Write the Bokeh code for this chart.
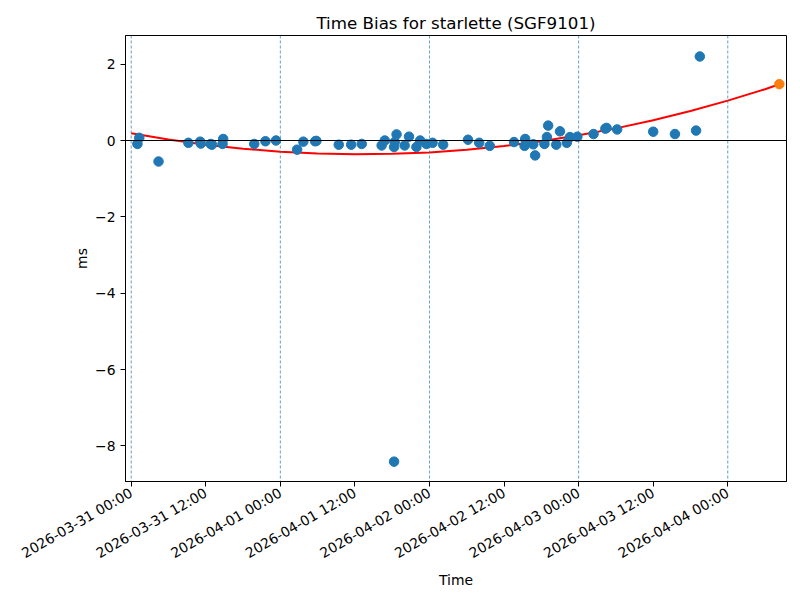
import math
import pandas as pd
from bokeh.plotting import figure
from bokeh.models import Span, FixedTicker, DatetimeTickFormatter, Range1d
from bokeh.embed import file_html
from bokeh.resources import INLINE

# ---- data ----
t0 = pd.Timestamp("2026-03-31 00:00")
obs_hours = [1.0, 1.3, 4.4, 9.2, 11.1, 11.2, 12.8, 13.0, 14.8, 14.7, 19.8, 21.6, 23.3,
             26.7, 27.7, 29.6, 29.8, 33.4, 35.4, 37.1, 40.3, 40.8, 42.3, 42.7, 42.4,
             42.3, 44.0, 44.7, 45.9, 46.5, 47.5, 48.5, 50.2, 54.2, 56.0, 57.7, 61.6,
             63.4, 63.3, 64.7, 65.0, 66.5, 66.9, 67.1, 68.4, 69.0, 70.1, 70.6, 71.8,
             74.4, 76.3, 76.5, 78.2, 84.0, 87.5, 90.9, 91.5]
obs_bias = [-0.09, 0.07, -0.55, -0.06, -0.03, -0.08, -0.09, -0.11, 0.04, -0.09, -0.09, -0.02, 0.0,
            -0.24, -0.03, -0.02, -0.01, -0.11, -0.11, -0.09, -0.13, 0.0, -0.17, 0.16, -0.04,
            -8.41, -0.13, 0.10, -0.17, 0.0, -0.09, -0.06, -0.11, 0.02, -0.06, -0.14, -0.04,
            0.04, -0.14, -0.10, -0.39, -0.09, 0.09, 0.39, -0.11, 0.24, -0.06, 0.09, 0.10,
            0.17, 0.31, 0.33, 0.29, 0.23, 0.17, 0.26, 2.20]
fit_hours = [0, 6, 12, 18, 24, 30, 36, 42, 48, 54, 60, 66, 72, 78, 84, 90, 96, 102, 104.3]
fit_bias = [0.19, 0.026, -0.109, -0.215, -0.292, -0.34, -0.36, -0.35, -0.311, -0.243,
            -0.146, -0.02, 0.135, 0.318, 0.531, 0.773, 1.044, 1.344, 1.475]
pred_hours = [104.3]
pred_bias = [1.475]
day_marks = ["2026-03-31", "2026-04-01", "2026-04-02", "2026-04-03", "2026-04-04"]
x_tick_hours = [0, 12, 24, 36, 48, 60, 72, 84, 96]
y_ticks = [2, 0, -2, -4, -6, -8]
y_tick_labels = ["2", "0", "\u22122", "\u22124", "\u22126", "\u22128"]

def to_dt(hours):
    return [t0 + pd.Timedelta(hours=h) for h in hours]

obs_t = to_dt(obs_hours)
fit_t = to_dt(fit_hours)
pred_t = to_dt(pred_hours)

FONT = "DejaVu Sans"

p = figure(width=792, height=592, output_backend="svg", toolbar_location=None,
           x_axis_type="datetime",
           x_range=Range1d(pd.Timestamp("2026-03-30 23:05"), pd.Timestamp("2026-04-04 09:27")),
           y_range=Range1d(-8.93, 2.75),
           min_border_left=125, min_border_right=6, min_border_top=35, min_border_bottom=111)

p.title.text = "Time Bias for starlette (SGF9101)"
p.title.align = "center"
p.title.text_font = FONT
p.title.text_font_size = "16.7px"
p.title.text_font_style = "normal"
p.title.text_color = "black"
p.title.standoff = 6

p.xgrid.visible = False
p.ygrid.visible = False
p.outline_line_color = "black"
p.outline_line_width = 1
p.background_fill_color = "white"
p.border_fill_color = "white"

for d in day_marks:
    p.add_layout(Span(location=pd.Timestamp(d), dimension="height",
                      line_color="#1f77b4", line_width=0.7, line_dash="3 2"))
p.add_layout(Span(location=0, dimension="width", line_color="black", line_width=1))

p.line(fit_t, fit_bias, line_color="red", line_width=2)
p.scatter(obs_t, obs_bias, size=9.5, fill_color="#1f77b4", line_color="#1f77b4")
p.scatter(pred_t, pred_bias, size=9.5, fill_color="#ff7f0e", line_color="#ff7f0e")

xa = p.xaxis[0]
xa.ticker = FixedTicker(ticks=[(t0 + pd.Timedelta(hours=h)).value / 1e6 for h in x_tick_hours])
fmt = "%Y-%m-%d %H:%M"
xa.formatter = DatetimeTickFormatter(milliseconds=fmt, seconds=fmt, minsec=fmt, minutes=fmt,
                                     hourmin=fmt, hours=fmt, days=fmt, months=fmt, years=fmt)
xa.major_label_orientation = math.pi / 6
xa.axis_label = "Time"

ya = p.yaxis[0]
ya.ticker = FixedTicker(ticks=y_ticks)
ya.major_label_overrides = {t: l for t, l in zip(y_ticks, y_tick_labels)}
ya.axis_label = "ms"

for ax in (xa, ya):
    ax.major_tick_out = 5
    ax.major_tick_in = 0
    ax.minor_tick_line_color = None
    ax.axis_line_color = "black"
    ax.major_tick_line_color = "black"
    ax.major_label_text_font = FONT
    ax.major_label_text_font_size = "13.9px"
    ax.major_label_text_color = "black"
    ax.axis_label_text_font = FONT
    ax.axis_label_text_font_size = "13.9px"
    ax.axis_label_text_font_style = "normal"
    ax.axis_label_text_color = "black"
    ax.major_label_standoff = 5
ya.axis_label_standoff = 2
xa.axis_label_standoff = 1

open("out.html", "w").write(file_html(p, INLINE))
